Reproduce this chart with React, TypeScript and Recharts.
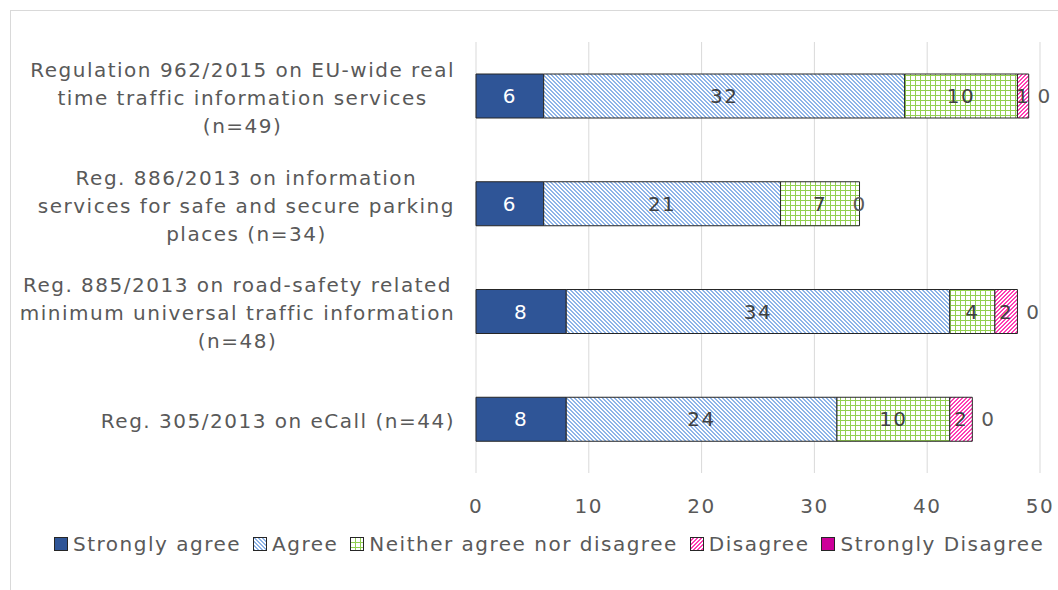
import { BarChart, Bar, XAxis, YAxis, CartesianGrid, LabelList } from "recharts"

// survey answers per regulation (counts of respondents)
const categories = [
  "Regulation 962/2015 on EU-wide real\ntime traffic information services\n(n=49)",
  "Reg. 886/2013 on information\nservices for safe and secure parking\nplaces (n=34)",
  "Reg. 885/2013 on road-safety related\nminimum universal traffic information\n(n=48)",
  "Reg. 305/2013 on eCall (n=44)",
]
const stronglyAgree = [6, 6, 8, 8]
const agree = [32, 21, 34, 24]
const neither = [10, 7, 4, 10]
const disagree = [1, 0, 2, 2]
const stronglyDisagree = [0, 0, 0, 0]
const xTicks = [0, 10, 20, 30, 40, 50]

const FONT = '"DejaVu Sans", Verdana, sans-serif'
const TEXT = "#595959"
const SPACING = 1.5

const series = [
  { key: "sa", name: "Strongly agree", fill: "#2F5597", label: "#ffffff" },
  { key: "a", name: "Agree", fill: "url(#agreePat)", label: "#404040" },
  { key: "n", name: "Neither agree nor disagree", fill: "url(#neitherPat)", label: "#404040" },
  { key: "d", name: "Disagree", fill: "url(#disagreePat)", label: "#404040" },
  { key: "sd", name: "Strongly Disagree", fill: "#CC0099", label: "#404040" },
]

const data = categories.map((c, i) => ({
  name: c,
  sa: stronglyAgree[i],
  a: agree[i],
  n: neither[i],
  d: disagree[i],
  sd: stronglyDisagree[i],
}))

let ctx: CanvasRenderingContext2D | null = null
function measure(s: string) {
  if (!ctx) {
    ctx = document.createElement("canvas").getContext("2d")
    if (ctx) ctx.font = `20px ${FONT}`
  }
  const w = ctx ? ctx.measureText(s).width : s.length * 11
  return w + s.length * SPACING
}

function CategoryTick(props: any) {
  const { y, payload } = props
  const lines = String(payload.value).split("\n")
  const widest = Math.max(...lines.map(measure))
  const cx = 455 - widest / 2
  const lh = 28
  const top = y + 2 - ((lines.length - 1) * lh) / 2
  return (
    <text textAnchor="middle" fontSize={20} fill={TEXT} fontFamily={FONT}
      letterSpacing={SPACING} dominantBaseline="central">
      {lines.map((l, i) => (
        <tspan key={i} x={cx} y={top + i * lh}>
          {l}
        </tspan>
      ))}
    </text>
  )
}

// zero-sized segments get no label from recharts, so the trailing zeros are
// drawn off the first segment: its width/value gives the scale of the row
function TrailLabels(props: any) {
  const { x, y, width, height, index } = props
  const unit = width / stronglyAgree[index]
  const total = stronglyAgree[index] + agree[index] + neither[index] + disagree[index] + stronglyDisagree[index]
  const end = x + total * unit
  const common = {
    y: y + height / 2, textAnchor: "middle" as const, dominantBaseline: "central" as const,
    fontSize: 20, fill: TEXT, fontFamily: FONT, letterSpacing: SPACING,
  }
  if (!disagree[index]) return <text x={end} {...common}>{disagree[index]}</text>
  return <text x={end + 16} {...common}>{stronglyDisagree[index]}</text>
}

// pixel tiles, like the office fill patterns
const rows = [0, 1, 2, 3]

function Patterns() {
  return (
    <defs>
      <pattern id="agreePat" patternUnits="userSpaceOnUse" width="4" height="4">
        <rect width="4" height="4" fill="#ffffff" />
        {rows.map((r) => (
          <g key={r} fill="#8EB4E8">
            <rect x={r} y={r} width={1} height={1} />
            <rect x={(r + 1) % 4} y={r} width={1} height={1} />
          </g>
        ))}
      </pattern>
      <pattern id="neitherPat" patternUnits="userSpaceOnUse" width="5" height="5">
        <rect width="5" height="5" fill="#ffffff" />
        <rect x="0" y="0" width="1" height="5" fill="#92D050" />
        <rect x="0" y="0" width="5" height="1" fill="#92D050" />
      </pattern>
      <pattern id="disagreePat" patternUnits="userSpaceOnUse" width="4" height="4">
        <rect width="4" height="4" fill="#ffffff" />
        {rows.map((r) => (
          <g key={r} fill="#FF3FB4">
            <rect x={3 - r} y={r} width={1} height={1} />
            <rect x={(4 - r) % 4} y={r} width={1} height={1} />
          </g>
        ))}
      </pattern>
    </defs>
  )
}

function LegendRow() {
  return (
    <div style={{ position: "absolute", left: 54, top: 532, display: "flex", alignItems: "center",
      fontFamily: FONT, fontSize: 20, color: TEXT, letterSpacing: SPACING, whiteSpace: "nowrap" }}>
      {series.map((s) => (
        <div key={s.key} style={{ display: "flex", alignItems: "center", marginRight: 12 }}>
          <svg width={14} height={14} style={{ marginRight: 5 }}>
            <rect x={0.5} y={0.5} width={13} height={13} fill={s.fill} stroke="#262626" />
          </svg>
          <span>{s.name}</span>
        </div>
      ))}
    </div>
  )
}

export default function App() {
  return (
    <div style={{ position: "absolute", left: 0, top: 0, width: 1058, height: 590, overflow: "hidden", background: "#fff" }}>
      <div style={{ position: "absolute", left: 10, top: 10, width: 1100, height: 620, border: "1px solid #D9D9D9" }} />
      <div style={{ position: "absolute", left: 0, top: 0 }}>
        <BarChart width={1058} height={590} data={data} layout="vertical"
          margin={{ top: 42, right: 18, left: 0, bottom: 87 }} barSize={44}>
          <Patterns />
          <CartesianGrid horizontal={false} stroke="#D9D9D9" />
          <XAxis type="number" domain={[0, 50]} ticks={xTicks} axisLine={false} tickLine={false}
            tickSize={0} tickMargin={26} height={30}
            tick={{ fontSize: 20, fill: TEXT, fontFamily: FONT, letterSpacing: SPACING }} />
          <YAxis type="category" dataKey="name" width={476} axisLine={false} tickLine={false}
            tick={<CategoryTick />} interval={0} />
          {series.map((s) => (
            <Bar key={s.key} dataKey={s.key} name={s.name} stackId="x" fill={s.fill}
              stroke="#262626" strokeWidth={1} isAnimationActive={false}>
              <LabelList dataKey={s.key} position="center" fill={s.label}
                style={{ fontSize: 20, fontFamily: FONT, letterSpacing: SPACING }} />
              {s.key === "sa" && <LabelList dataKey={s.key} content={<TrailLabels />} />}
            </Bar>
          ))}
        </BarChart>
      </div>
      <LegendRow />
    </div>
  )
}
